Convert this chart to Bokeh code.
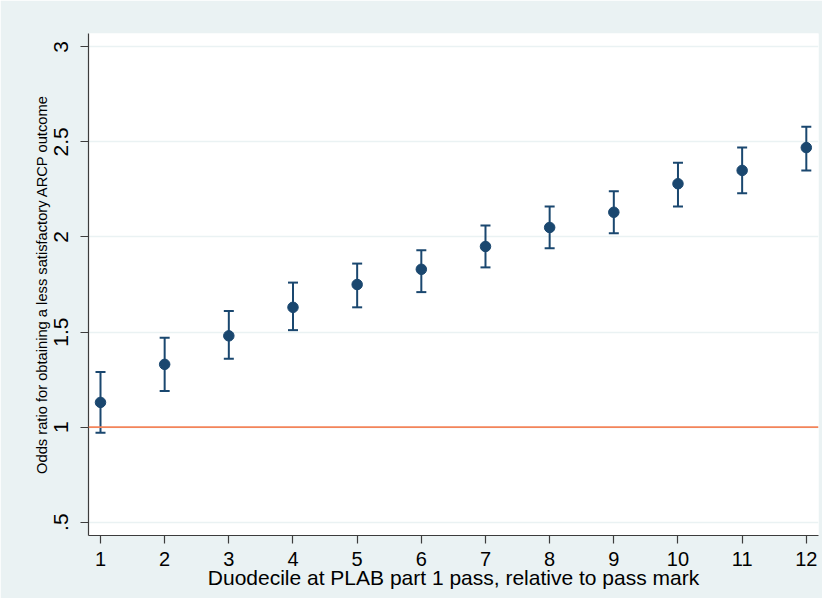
from bokeh.plotting import figure
from bokeh.models import ColumnDataSource, Whisker, TeeHead, Span, FixedTicker, Range1d
from bokeh.embed import file_html
from bokeh.resources import INLINE

duodecile = [1, 2, 3, 4, 5, 6, 7, 8, 9, 10, 11, 12]
odds_ratio = [1.13, 1.33, 1.48, 1.63, 1.75, 1.83, 1.95, 2.05, 2.13, 2.28, 2.35, 2.47]
ci_lower = [0.97, 1.19, 1.36, 1.51, 1.63, 1.71, 1.84, 1.94, 2.02, 2.16, 2.23, 2.35]
ci_upper = [1.29, 1.47, 1.61, 1.76, 1.86, 1.93, 2.06, 2.16, 2.24, 2.39, 2.47, 2.58]
y_ticks = [0.5, 1, 1.5, 2, 2.5, 3]
y_tick_labels = [".5", "1", "1.5", "2", "2.5", "3"]
x_title = "Duodecile at PLAB part 1 pass, relative to pass mark"
y_title = "Odds ratio for obtaining a less satisfactory ARCP outcome"

NAVY = "#1a476f"
BG = "#eaf2f3"
FONT = "Liberation Sans"

src = ColumnDataSource(dict(x=duodecile, y=odds_ratio, lo=ci_lower, hi=ci_upper))

p = figure(width=822, height=598, output_backend="svg", toolbar_location=None,
           x_range=Range1d(0.813, 12.19), y_range=Range1d(0.43, 3.07),
           min_border_left=88, min_border_top=33, min_border_right=4, min_border_bottom=63)
p.background_fill_color = "white"
p.border_fill_color = BG
p.outline_line_color = None

# reference line
p.add_layout(Span(location=1, dimension="width", line_color="#f3845a", line_width=1.6))

w = Whisker(source=src, base="x", lower="lo", upper="hi", line_color=NAVY, line_width=2,
            upper_head=TeeHead(size=10, line_color=NAVY, line_width=2),
            lower_head=TeeHead(size=10, line_color=NAVY, line_width=2))
p.add_layout(w)
p.scatter("x", "y", source=src, size=10.5, color=NAVY)

# axes
p.xaxis.ticker = FixedTicker(ticks=duodecile)
p.yaxis.ticker = FixedTicker(ticks=y_ticks)
p.yaxis.major_label_overrides = {t: l for t, l in zip(y_ticks, y_tick_labels)}
p.yaxis.major_label_orientation = "vertical"
for ax in (p.xaxis, p.yaxis):
    ax.axis_line_color = "#3c3c3c"
    ax.axis_line_width = 1.2
    ax.major_tick_line_color = "#3c3c3c"
    ax.major_tick_line_width = 1.2
    ax.major_tick_out = 8
    ax.major_tick_in = 0
    ax.minor_tick_line_color = None
    ax.major_label_text_font = FONT
    ax.major_label_text_color = "black"
    ax.axis_label_text_font = FONT
    ax.axis_label_text_font_style = "normal"
    ax.axis_label_text_color = "black"
p.xaxis.major_label_text_font_size = "20px"
p.yaxis.major_label_text_font_size = "21px"
p.xaxis.axis_label = x_title
p.xaxis.axis_label_text_font_size = "21px"
p.xaxis.axis_label_standoff = -3
p.xaxis.major_label_standoff = 8
p.yaxis.axis_label = y_title
p.yaxis.axis_label_text_font_size = "14.7px"
p.yaxis.axis_label_standoff = 2
p.yaxis.major_label_standoff = 12

p.xgrid.grid_line_color = None
p.ygrid.ticker = FixedTicker(ticks=y_ticks)
p.ygrid.grid_line_color = BG
p.ygrid.grid_line_width = 1.5

open("out.html", "w").write(file_html(p, INLINE))
